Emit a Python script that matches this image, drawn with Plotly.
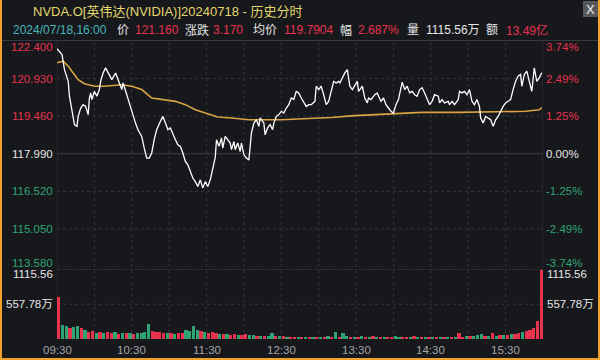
import plotly.graph_objects as go

W, H = 600, 360
def px(x): return x / W
def py(y): return 1 - y / H

# ---------------- data ----------------
title_text = "NVDA.O[英伟达(NVIDIA)]20240718 - 历史分时"
prev_close = 117.99
price_ticks = [122.400, 120.930, 119.460, 117.990, 116.520, 115.050, 113.580]
price_tick_lbl = ["122.400", "120.930", "119.460", "117.990", "116.520", "115.050", "113.580"]
pct_tick_lbl = ["3.74%", "2.49%", "1.25%", "0.00%", "-1.25%", "-2.49%", "-3.74%"]
time_tick_min = [0, 60, 120, 180, 240, 300, 360]
time_tick_lbl = ["09:30", "10:30", "11:30", "12:30", "13:30", "14:30", "15:30"]
vol_max = 1115.56
vol_ticks = [1115.56, 557.78]
vol_tick_lbl = ["1115.56", "557.78万"]

# minutes after 09:30
price_minute = [0, 4, 6, 9, 10, 12, 14, 16, 17, 19, 21, 23, 25, 26, 27, 28, 30, 32, 34, 35,
                37, 39, 41, 43, 44, 47, 49, 51, 52, 53, 55, 56, 58, 60, 63, 65, 68, 70, 72, 74,
                76, 78, 80, 83, 85, 87, 89, 91, 93, 95, 97, 99, 101, 103, 105, 107, 109, 111, 113, 115,
                117, 119, 121, 123, 125, 127, 128, 130, 132, 133, 135, 137, 139, 140, 142, 143, 145, 147, 148, 150,
                152, 154, 155, 156, 158, 160, 162, 163, 166, 167, 169, 171, 173, 174, 176, 178, 180, 182, 184, 186,
                188, 190, 192, 194, 196, 198, 200, 202, 204, 207, 208, 210, 212, 214, 216, 218, 220, 222, 224, 226,
                227, 229, 231, 233, 235, 237, 239, 241, 242, 245, 247, 249, 250, 252, 255, 257, 258, 260, 262, 264,
                266, 268, 270, 272, 274, 276, 277, 279, 281, 283, 285, 287, 289, 291, 293, 295, 297, 299, 301, 303,
                306, 307, 309, 311, 314, 315, 317, 319, 322, 323, 325, 327, 329, 331, 333, 335, 337, 339, 340, 342,
                344, 346, 348, 350, 352, 354, 356, 358, 360, 362, 364, 366, 368, 370, 372, 373, 375, 377, 379, 381,
                383, 385, 387, 389]
price = [122.10, 121.87, 121.28, 120.82, 120.24, 119.71, 119.13, 119.06, 119.45, 119.78, 119.91, 119.84, 119.52, 120.17, 120.37, 120.11, 120.43, 120.24, 120.50, 120.82,
         121.15, 121.35, 121.15, 120.96, 120.89, 121.15, 120.89, 120.63, 120.50, 120.76, 120.50, 120.30, 119.98, 119.65, 119.19, 118.93, 118.67, 118.21, 117.82, 117.82,
         118.02, 118.54, 118.93, 119.26, 119.45, 119.19, 118.93, 119.00, 118.73, 118.54, 118.34, 118.28, 118.02, 117.69, 117.56, 117.30, 117.04, 116.90, 116.71, 116.97,
         116.65, 116.90, 116.71, 116.97, 117.36, 117.85, 118.54, 118.28, 118.61, 118.21, 118.67, 118.54, 118.41, 118.15, 118.47, 118.15, 118.41, 118.08, 118.41, 117.95,
         117.82, 117.75, 118.28, 118.80, 119.19, 119.32, 119.06, 119.39, 119.19, 118.73, 119.00, 119.13, 118.93, 119.19, 119.45, 119.52, 119.65, 119.58, 119.78, 119.91,
         120.17, 120.11, 120.43, 120.37, 120.17, 119.98, 119.84, 119.91, 119.91, 120.04, 120.63, 120.50, 120.63, 120.30, 119.91, 120.04, 120.43, 120.82, 120.76, 120.82,
         120.76, 120.96, 121.15, 121.28, 120.63, 120.50, 120.69, 120.82, 120.43, 120.63, 120.17, 119.98, 120.17, 120.11, 120.30, 120.37, 120.24, 120.04, 120.17, 119.91,
         119.78, 119.65, 119.58, 119.91, 120.11, 120.63, 120.79, 120.50, 120.63, 120.37, 120.43, 120.30, 120.24, 120.50, 120.57, 120.37, 120.17, 119.91, 120.04, 120.30,
         120.24, 119.98, 120.11, 119.98, 120.04, 119.91, 120.04, 119.91, 120.11, 120.43, 120.37, 120.43, 120.30, 120.50, 120.04, 119.91, 120.11, 119.84, 119.39, 119.19,
         119.45, 119.39, 119.32, 119.06, 119.32, 119.45, 119.65, 119.84, 119.98, 120.04, 120.11, 120.50, 120.82, 121.02, 121.09, 120.63, 121.09, 121.22, 120.76, 120.43,
         121.35, 120.82, 120.96, 121.16]

avg_minute = [0, 5, 9, 13, 17, 22, 30, 38, 52, 60, 68, 76, 84, 95, 103, 111, 119, 129, 140, 154,
              180, 196, 220, 239, 258, 271, 293, 322, 349, 376, 387, 389]
avg_price = [121.55, 121.61, 121.41, 121.15, 120.89, 120.73, 120.63, 120.63, 120.69, 120.63, 120.50, 120.17, 120.11, 120.04, 119.91, 119.71, 119.58, 119.43, 119.39, 119.32,
             119.32, 119.35, 119.41, 119.48, 119.52, 119.56, 119.61, 119.61, 119.62, 119.65, 119.71, 119.79]

# volume in 万 shares, 3-minute buckets from 09:30
volume = [690, 230, 210, 190, 200, 215, 180, 150, 120, 130, 110, 125, 105, 115, 100, 120, 95, 110, 105, 100,
          95, 110, 100, 120, 250, 130, 125, 120, 110, 105, 100, 95, 110, 100, 150, 140, 210, 160, 140, 120,
          110, 115, 100, 95, 90, 85, 80, 90, 75, 80, 85, 70, 65, 60, 60, 55, 50, 110, 55, 50,
          50, 45, 40, 45, 40, 35, 40, 45, 35, 40, 40, 45, 50, 45, 120, 45, 110, 55, 40, 45,
          45, 50, 40, 45, 55, 40, 45, 35, 40, 45, 50, 40, 35, 40, 45, 50, 45, 40, 35, 40,
          40, 35, 40, 45, 35, 40, 45, 110, 45, 50, 55, 60, 70, 90, 60, 55, 100, 60, 65, 70,
          80, 90, 95, 100, 120, 130, 150, 180, 290, 1115.56]
vol_side = list("rggrggrgrrgrgrrgrgrg" "rggggrrrrgrgrrggggrg" "rrrgrgrrgrrggrgrggrg"
                "rgrrgrgrgrgrgrgrggrg" "rgrgrgrgrrggrrgrgrgr" "grgrgrgrrgrgggrgrgrg" "rgrrgrrrrr")

info_items = [
    ("2024/07/18,16:00", "teal", 11.5), ("价", "white", 116.5), ("121.160", "red", 133.5),
    ("涨跌", "white", 183.5), ("3.170", "red", 212), ("均价", "white", 251.5),
    ("119.7904", "red", 282.5), ("幅", "white", 338.5), ("2.687%", "red", 356.5),
    ("量", "white", 405.5), ("1115.56万", "white", 424.5), ("额", "white", 484.5),
    ("13.49亿", "red", 504.5),
]

# ---------------- style ----------------
BG = "#17181c"
RED = "#e8334f"
GREEN = "#2ea475"
WHITE = "#e6e6e6"
TEAL = "#45b6be"
GRID = "#34353b"
FONT = "Liberation Sans, Arial, Noto Sans CJK SC, sans-serif"
color_map = {"red": RED, "white": WHITE, "teal": TEAL}

X0, X1 = 57, 543           # plot pixel extent
PY_TOP, PY_BOT = 41, 266.5
VY_TOP, VY_BOT = 269.5, 339

fig = go.Figure()
fig.add_trace(go.Bar(
    x=[1.5 + 3 * i for i in range(len(volume))], y=volume,
    width=2.6, marker=dict(color=[RED if s == "r" else GREEN for s in vol_side], line_width=0),
    xaxis="x2", yaxis="y2", hoverinfo="skip"))
fig.add_trace(go.Scatter(x=avg_minute, y=avg_price, mode="lines",
                         line=dict(color="#d9a443", width=1.6), hoverinfo="skip"))
fig.add_trace(go.Scatter(x=price_minute, y=price, mode="lines",
                         line=dict(color="#ffffff", width=1.3), hoverinfo="skip"))

shapes = []
shapes.append(dict(type="line", xref="paper", yref="paper", x0=0, x1=1, y0=py(40.5), y1=py(40.5),
                   line=dict(color="#3a3b41", width=1)))
for v in price_ticks[1:]:
    solid = abs(v - prev_close) < 1e-6
    shapes.append(dict(type="line", xref="x", yref="y", x0=0, x1=390, y0=v, y1=v,
                       line=dict(color="#3e3f45" if solid else GRID, width=1,
                                 dash="solid" if solid else "dot"), layer="below"))
shapes.append(dict(type="line", xref="x2", yref="y2", x0=0, x1=390, y0=vol_max, y1=vol_max,
                   line=dict(color="#3a3b41", width=1), layer="below"))
shapes.append(dict(type="line", xref="x2", yref="y2", x0=0, x1=390, y0=vol_ticks[1], y1=vol_ticks[1],
                   line=dict(color=GRID, width=1, dash="dot"), layer="below"))
for m in range(0, 391, 30):
    edge = m in (0, 390)
    shapes.append(dict(type="line", xref="x", yref="paper", x0=m, x1=m, y0=py(VY_BOT), y1=py(PY_TOP),
                       line=dict(color="#34353b" if edge else GRID, width=1,
                                 dash="solid" if edge else "dot"), layer="below"))
shapes.append(dict(type="rect", xref="paper", yref="paper", x0=px(583), x1=px(598), y0=py(17), y1=py(1),
                   fillcolor="#57585d", line_width=0))
for (a, b, c, d) in [(1, 1, 0, 360), (599, 599, 0, 360), (0, 600, 359, 359)]:
    shapes.append(dict(type="line", xref="paper", yref="paper", x0=px(a), x1=px(b), y0=py(c), y1=py(d),
                       line=dict(color="#f0a22a", width=2)))

ann = []
def add(text, x, y, color, size=11.5, xanchor="left", yanchor="middle", xref="paper", yref="paper", yshift=0):
    ann.append(dict(text=text, x=x, y=y, xref=xref, yref=yref, xanchor=xanchor, yanchor=yanchor,
                    showarrow=False, font=dict(family=FONT, size=size, color=color),
                    yshift=yshift, borderpad=0))

add(title_text, px(31.5), py(12), "#e3d66c", size=13)
add("X", px(590.5), py(9), "#f0f0f0", size=13, xanchor="center")
for text, c, x in info_items:
    add(text, px(x), py(30), color_map[c], size=12)

n = len(price_ticks)
for i, (v, lbl, pl) in enumerate(zip(price_ticks, price_tick_lbl, pct_tick_lbl)):
    col = RED if v > prev_close + 1e-6 else (GREEN if v < prev_close - 1e-6 else WHITE)
    shift = -6 if i == 0 else (4 if i == n - 1 else 0)
    add(lbl, px(54), v, col, xanchor="right", yref="y", yshift=shift)
    add(pl, px(544.5), v, col, xanchor="left", yref="y", yshift=shift)

for v, lbl, s in zip(vol_ticks, vol_tick_lbl, [-4, 0]):
    add(lbl, px(53.5), v, WHITE, xanchor="right", yref="y2", yshift=s)
    add(lbl, px(546), v, WHITE, xanchor="left", yref="y2", yshift=s)

for m, lbl in zip(time_tick_min, time_tick_lbl):
    add(lbl, m, py(350), "#a3a4a8", size=11.5, xanchor="center", xref="x")

fig.update_layout(
    width=W, height=H, margin=dict(l=0, r=0, t=0, b=0),
    paper_bgcolor=BG, plot_bgcolor=BG, showlegend=False,
    xaxis=dict(domain=[px(X0), px(X1)], range=[0, 390], visible=False, fixedrange=True),
    yaxis=dict(domain=[py(PY_BOT), py(PY_TOP)], range=[price_ticks[-1], price_ticks[0]], visible=False),
    xaxis2=dict(domain=[px(X0), px(X1)], range=[0, 390], visible=False, anchor="y2"),
    yaxis2=dict(domain=[py(VY_BOT), py(VY_TOP)], range=[0, vol_max], visible=False, anchor="x2"),
    shapes=shapes, annotations=ann, bargap=0,
)
fig.write_html("out.html", config={"displayModeBar": False},
               post_script="document.body.style.margin='0';document.body.style.background='%s';" % BG)
